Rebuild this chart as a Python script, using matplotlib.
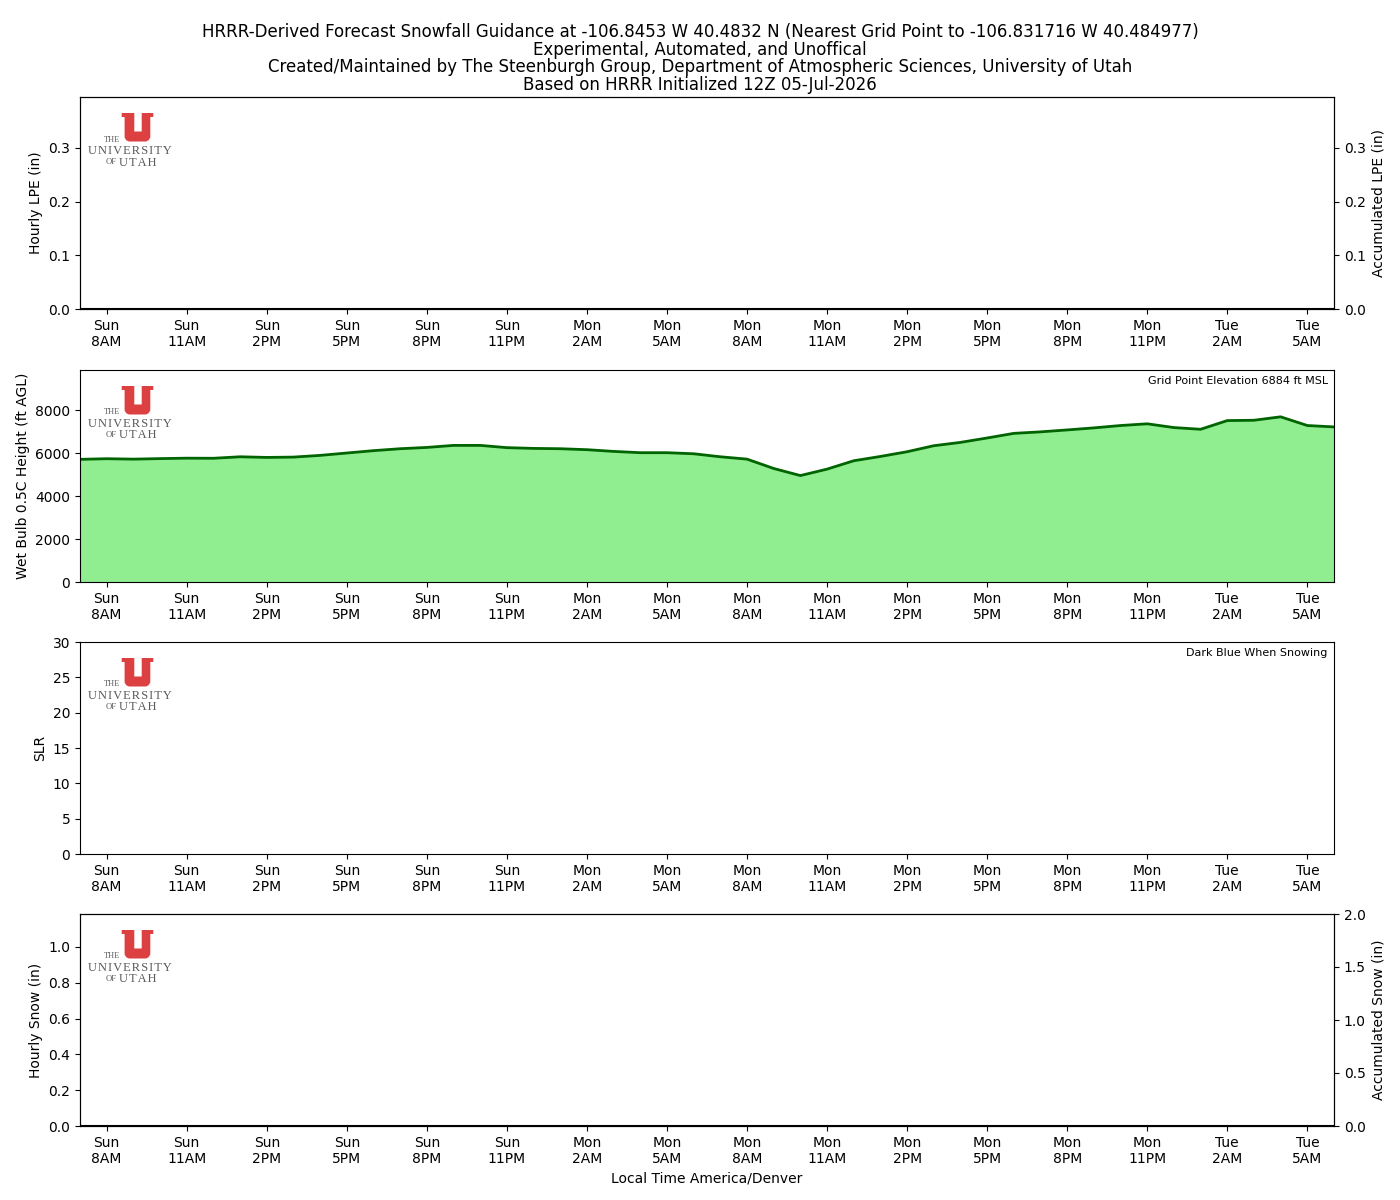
import matplotlib
matplotlib.use("Agg")
import matplotlib.pyplot as plt
from matplotlib.patches import Polygon
import numpy as np

# ---------------- data ----------------
start_day = ["Sun"] * 17 + ["Mon"] * 24 + ["Tue"] * 7
hours_12 = ["7AM", "8AM", "9AM", "10AM", "11AM", "12PM", "1PM", "2PM", "3PM", "4PM", "5PM",
            "6PM", "7PM", "8PM", "9PM", "10PM", "11PM",
            "12AM", "1AM", "2AM", "3AM", "4AM", "5AM", "6AM", "7AM", "8AM", "9AM", "10AM", "11AM",
            "12PM", "1PM", "2PM", "3PM", "4PM", "5PM", "6PM", "7PM", "8PM", "9PM", "10PM", "11PM",
            "12AM", "1AM", "2AM", "3AM", "4AM", "5AM", "6AM"]
wetbulb_height = [5710, 5740, 5720, 5745, 5765, 5760, 5830, 5800, 5815, 5895, 6005, 6115,
                  6205, 6265, 6360, 6360, 6255, 6220, 6205, 6160, 6080, 6020, 6020, 5970,
                  5830, 5720, 5285, 4955, 5255, 5645, 5845, 6065, 6345, 6500, 6705, 6920,
                  6990, 7080, 7175, 7285, 7365, 7190, 7110, 7515, 7530, 7690, 7285, 7220]
hourly_lpe = [0.0] * 48
accum_lpe = [0.0] * 48
slr = [np.nan] * 48
hourly_snow = [0.0] * 48
accum_snow = [0.0] * 48
tick_idx = list(range(1, 48, 3))

title = ("HRRR-Derived Forecast Snowfall Guidance at -106.8453 W 40.4832 N "
         "(Nearest Grid Point to -106.831716 W 40.484977)\n"
         "Experimental, Automated, and Unoffical\n"
         "Created/Maintained by The Steenburgh Group, Department of Atmospheric Sciences, University of Utah\n"
         "Based on HRRR Initialized 12Z 05-Jul-2026")

# ---------------- figure ----------------
W, H = 1400, 1200
fig = plt.figure(figsize=(14, 12), dpi=100)

L, R = 80, 1334
tops = [97, 370, 642, 914]
ph = 212

def add_panel(top):
    return fig.add_axes([L / W, 1 - (top + ph) / H, (R - L) / W, ph / H])

x = np.arange(48)
labels = [f"{d}\n{h}" for d, h in zip(start_day, hours_12)]
tick_labels = [labels[i] for i in tick_idx]

def style_x(ax):
    ax.set_xlim(0, 47)
    ax.set_xticks(tick_idx)
    ax.set_xticklabels(tick_labels)

HS = "\u200a"

def add_logo(top):
    lax = fig.add_axes([L / W, 1 - (top + 80) / H, 100 / W, 80 / H])
    lax.set_xlim(0, 100)
    lax.set_ylim(80, 0)
    lax.axis("off")
    upts = [(41.7, 16.0), (54.3, 16.0), (54.3, 34.5), (61.7, 34.5), (61.7, 16.0),
            (73.3, 16.0), (73.3, 20.0), (70.3, 20.0), (70.3, 40.5), (68.5, 43.3),
            (66.0, 44.5), (49.0, 44.5), (46.3, 43.3), (44.6, 40.5), (44.6, 20.0),
            (41.7, 20.0)]
    lax.add_patch(Polygon(upts, closed=True, facecolor="#dc4040", edgecolor="none"))
    fam = ["Liberation Serif", "DejaVu Serif"]
    col = "#5a5a5a"
    lax.text(32.5, 42.5, "THE", fontsize=6, family=fam, color=col, ha="center", va="center")
    lax.text(50, 54, HS.join("UNIVERSITY"), fontsize=9.0, family=fam, color=col,
             ha="center", va="center")
    lax.text(31, 65, "OF", fontsize=6.2, family=fam, color=col, ha="center", va="center")
    lax.text(57.5, 65.5, HS.join("UTAH"), fontsize=9.0, family=fam, color=col,
             ha="center", va="center")

# Panel 1: LPE
ax1 = add_panel(tops[0])
ax1.bar(x, hourly_lpe, width=0.8, color="tab:green")
ax1.set_ylim(0, 0.395)
ax1.set_yticks([0.0, 0.1, 0.2, 0.3])
ax1.set_ylabel("Hourly LPE (in)")
style_x(ax1)
ax1b = ax1.twinx()
ax1b.plot(x, accum_lpe, color="k", lw=1.5)
ax1b.set_ylim(0, 0.395)
ax1b.set_yticks([0.0, 0.1, 0.2, 0.3])
ax1b.set_ylabel("Accumulated LPE (in)")
fig.text(0.5, 1 - 94 / H, title, ha="center", va="bottom", fontsize=12, linespacing=0.98)

# Panel 2: wet bulb height
ax2 = add_panel(tops[1])
ax2.fill_between(x, 0, wetbulb_height, color="#90ee90")
ax2.plot(x, wetbulb_height, color="#006400", lw=2)
ax2.set_ylim(0, 9870)
ax2.set_yticks([0, 2000, 4000, 6000, 8000])
ax2.set_ylabel("Wet Bulb 0.5C Height (ft AGL)")
ax2.text(0.995, 0.97, "Grid Point Elevation 6884 ft MSL", transform=ax2.transAxes,
         ha="right", va="top", fontsize=8)
style_x(ax2)

# Panel 3: SLR
ax3 = add_panel(tops[2])
ax3.scatter(x, slr, color="darkblue", s=20)
ax3.set_ylim(0, 30)
ax3.set_yticks(range(0, 31, 5))
ax3.set_ylabel("SLR")
ax3.text(0.995, 0.97, "Dark Blue When Snowing", transform=ax3.transAxes,
         ha="right", va="top", fontsize=8)
style_x(ax3)

# Panel 4: Snow
ax4 = add_panel(tops[3])
ax4.bar(x, hourly_snow, width=0.8, color="tab:blue")
ax4.set_ylim(0, 1.184)
ax4.set_yticks([0.0, 0.2, 0.4, 0.6, 0.8, 1.0])
ax4.set_ylabel("Hourly Snow (in)")
ax4.set_xlabel("Local Time America/Denver")
style_x(ax4)
ax4b = ax4.twinx()
ax4b.plot(x, accum_snow, color="k", lw=1.5)
ax4b.set_ylim(0, 2.0)
ax4b.set_yticks([0.0, 0.5, 1.0, 1.5, 2.0])
ax4b.set_ylabel("Accumulated Snow (in)")

for t in tops:
    add_logo(t)

fig.savefig("out.png", dpi=100)
